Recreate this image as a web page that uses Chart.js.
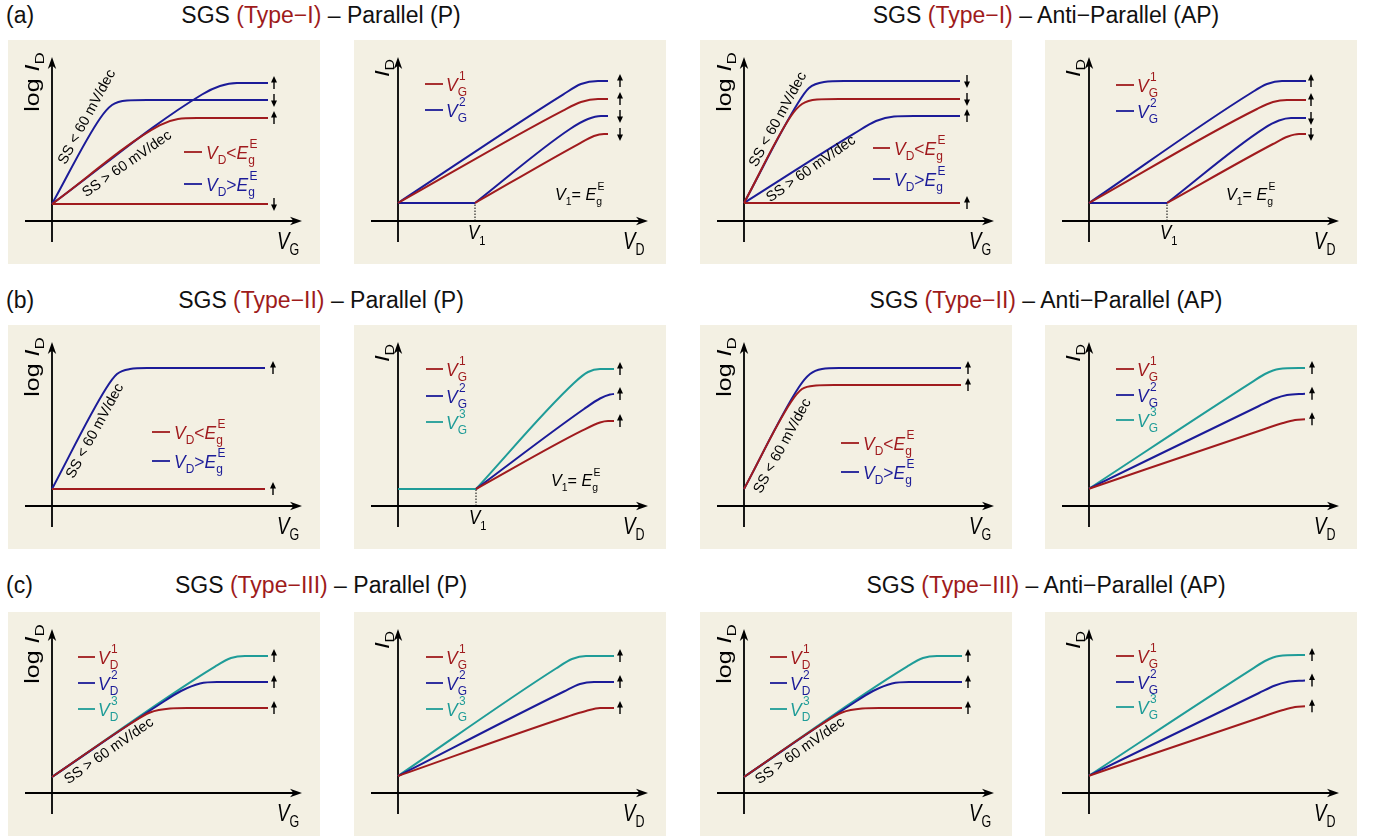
<!DOCTYPE html>
<html>
<head>
<meta charset="utf-8">
<script src="https://cdn.jsdelivr.net/npm/chart.js@4"></script>
<style>
  body { margin: 0; width: 1380px; height: 838px; background: #fff; position: relative; overflow: hidden;
         font-family: "Liberation Sans", Arial, sans-serif; color: #111; }
  .panel { position: absolute; width: 312px; height: 224px; background: #f3f0e3; }
  .lab, .ttl { position: absolute; font-size: 23px; line-height: 23px; white-space: nowrap; }
  .ttl { transform: translateX(-50%); }
  .r { color: #9e1b1b; }
</style>
</head>
<body>
<div class="lab" style="left:6px;top:4px">(a)</div>
<div class="ttl" style="left:321px;top:4px">SGS <span class="r">(Type−I)</span> – Parallel (P)</div>
<div class="ttl" style="left:1046px;top:4px">SGS <span class="r">(Type−I)</span> – Anti−Parallel (AP)</div>
<div class="lab" style="left:6px;top:289px">(b)</div>
<div class="ttl" style="left:321px;top:289px">SGS <span class="r">(Type−II)</span> – Parallel (P)</div>
<div class="ttl" style="left:1046px;top:289px">SGS <span class="r">(Type−II)</span> – Anti−Parallel (AP)</div>
<div class="lab" style="left:6px;top:574px">(c)</div>
<div class="ttl" style="left:321px;top:574px">SGS <span class="r">(Type−III)</span> – Parallel (P)</div>
<div class="ttl" style="left:1046px;top:574px">SGS <span class="r">(Type−III)</span> – Anti−Parallel (AP)</div>
<div id="wrap"></div>
<script>
const FONT = "'Liberation Sans', Arial, sans-serif";
const RED = "#a01b1e";
const BLUE = "#1b1b98";
const TEAL = "#1f9c98";

// curves: [x, y] in schematic units (origin at the axes crossing)
// (a) Type-I, P
const tIP_log_red0 = [[0, 1.7], [21.6, 1.7]];
const tIP_log_redSS = [[0, 1.7], [10.8, 9.58], [12.6, 10.2], [14.5, 10.3], [21.6, 10.3]];
const tIP_log_blueSteep = [[0, 1.7], [4.8, 10.25], [6.0, 11.6], [7.5, 12.05], [9.5, 12.1], [21.6, 12.1]];
const tIP_log_blueSS = [[0, 1.7], [15.0, 12.65], [16.8, 13.5], [18.5, 13.8], [21.6, 13.8]];
const tIP_log_arrows = [13.8, 12.1, 10.3, 1.7];
const tIP_log_dirs = [1, -1, 1, -1];

const tIP_lin_redUp = [[0, 1.8], [16.5, 11.04], [18.3, 11.9], [20, 12.2], [21, 12.2]];
const tIP_lin_blueUp = [[0, 1.8], [16.5, 12.64], [18.3, 13.7], [20, 14.0], [21, 14.0]];
const tIP_lin_redLow = [[7.7, 1.8], [18, 7.67], [19.6, 8.5], [20.6, 8.7], [21, 8.7]];
const tIP_lin_blueLow = [[7.7, 1.8], [17.2, 9.2], [19, 10.2], [20.3, 10.5], [21, 10.5]];
const tIP_lin_blueBase = [[0, 1.8], [7.7, 1.8]];
const tIP_lin_arrows = [14.0, 12.2, 10.5, 8.7];
const tIP_lin_dirs = [1, 1, -1, -1];

// (a) Type-I, AP
const tIAP_log_red0 = [[0, 1.8], [21.6, 1.8]];
const tIAP_log_redSteep = [[0, 1.8], [4.7, 10.5], [5.8, 11.7], [7.3, 12.15], [9.5, 12.2], [21.6, 12.2]];
const tIAP_log_blueSteep = [[0, 1.8], [5.4, 11.8], [6.5, 13.3], [8, 13.9], [10, 14], [21.6, 14]];
const tIAP_log_blueSS = [[0, 1.8], [11, 8.73], [13.2, 10.0], [15, 10.45], [17, 10.5], [21.6, 10.5]];
const tIAP_log_arrows = [14, 12.2, 10.5, 1.8];
const tIAP_log_dirs = [-1, -1, 1, 1];

const tIAP_lin_redUp = [[0, 1.8], [16.8, 11.2], [18.4, 11.9], [19.8, 12.1], [21.7, 12.1]];
const tIAP_lin_blueUp = [[0, 1.8], [16.2, 12.8], [17.8, 13.7], [19.3, 14.0], [21.7, 14.0]];
const tIAP_lin_redLow = [[7.8, 1.8], [18.4, 7.7], [19.9, 8.45], [21.0, 8.7], [21.7, 8.7]];
const tIAP_lin_blueLow = [[7.8, 1.8], [17.5, 9.27], [19.0, 10.05], [20.2, 10.3], [21.7, 10.3]];
const tIAP_lin_blueBase = [[0, 1.8], [7.8, 1.8]];
const tIAP_lin_arrows = [14, 12.1, 10.3, 8.7];
const tIAP_lin_dirs = [1, 1, -1, -1];

// (b) Type-II, P
const tIIP_log_red0 = [[0, 1.7], [21.3, 1.7]];
const tIIP_log_blueSteep = [[0, 1.7], [5.4, 11.75], [6.5, 13.2], [7.8, 13.7], [9.5, 13.8], [21.3, 13.8]];
const tIIP_log_arrows = [13.8, 1.7];

const tIIP_lin_tealBase = [[0, 1.7], [7.8, 1.7]];
const tIIP_lin_red = [[7.8, 1.7], [18.4, 7.53], [20.2, 8.35], [21.0, 8.5], [21.6, 8.5]];
const tIIP_lin_blue = [[7.8, 1.7], [18.6, 9.7], [20.2, 10.75], [21.2, 11.15], [21.6, 11.2]];
const tIIP_lin_teal = [[7.8, 1.7], [17.6, 12.3], [19.0, 13.4], [20.2, 13.7], [21.6, 13.7]];
const tIIP_lin_arrows = [13.7, 11.2, 8.5];

// (b) Type-II, AP
const tIIAP_log_red = [[0, 1.7], [4.7, 10.4], [5.8, 11.7], [7.2, 12.05], [9, 12.1], [21.7, 12.1]];
const tIIAP_log_blue = [[0, 1.7], [5.5, 11.9], [6.6, 13.2], [7.8, 13.7], [9.5, 13.8], [21.7, 13.8]];
const tIIAP_log_arrows = [13.8, 12.1];

const tIIAP_lin_red = [[0, 1.73], [17.5, 7.68], [19.4, 8.3], [20.6, 8.6], [21.6, 8.67]];
const tIIAP_lin_blue = [[0, 1.73], [17, 10.0], [18.6, 10.75], [19.8, 11.1], [21.6, 11.23]];
const tIIAP_lin_teal = [[0, 1.73], [16.3, 12.39], [17.6, 13.2], [19.0, 13.7], [21.6, 13.8]];
const tIIAP_lin_arrows = [13.8, 11.23, 8.67];

// (c) Type-III, P
const tIIIP_log_red = [[0, 1.6], [7.8, 6.9], [9.8, 8.05], [11.8, 8.45], [13.5, 8.5], [21.6, 8.5]];
const tIIIP_log_blue = [[0, 1.6], [10.8, 8.9], [12.9, 10.2], [14.8, 10.95], [16.5, 11.1], [21.6, 11.1]];
const tIIIP_log_teal = [[0, 1.6], [16.3, 12.64], [17.9, 13.5], [19.3, 13.7], [21.6, 13.7]];
const tIIIP_log_arrows = [13.7, 11.1, 8.5];

const tIIIP_lin_red = [[0, 1.7], [17, 7.65], [18.8, 8.2], [20.2, 8.5], [21.6, 8.5]];
const tIIIP_lin_blue = [[0, 1.7], [16.6, 10.15], [18.2, 10.9], [19.6, 11.1], [21.6, 11.1]];
const tIIIP_lin_teal = [[0, 1.7], [15.8, 12.45], [17.4, 13.4], [18.8, 13.7], [21.6, 13.7]];
const tIIIP_lin_arrows = [13.7, 11.1, 8.5];

// (c) Type-III, AP
const tIIIAP_log_red = [[0, 1.6], [7.8, 6.9], [9.8, 8.05], [11.8, 8.45], [13.5, 8.5], [21.8, 8.5]];
const tIIIAP_log_blue = [[0, 1.6], [10.8, 8.9], [12.9, 10.2], [14.8, 10.95], [16.5, 11.1], [21.8, 11.1]];
const tIIIAP_log_teal = [[0, 1.6], [16.3, 12.64], [17.9, 13.5], [19.3, 13.7], [21.8, 13.7]];
const tIIIAP_log_arrows = [13.7, 11.1, 8.5];

const tIIIAP_lin_red = [[0, 1.73], [17.5, 7.68], [19.4, 8.3], [20.6, 8.6], [21.6, 8.67]];
const tIIIAP_lin_blue = [[0, 1.73], [17, 10.0], [18.6, 10.75], [19.8, 11.1], [21.6, 11.25]];
const tIIIAP_lin_teal = [[0, 1.73], [16.3, 12.39], [17.6, 13.2], [19.0, 13.7], [21.6, 13.8]];
const tIIIAP_lin_arrows = [13.8, 11.25, 8.67];

const UP3 = [1, 1, 1];

// label pieces: i italic, r roman, b sub, p sup, bp stacked sub+sup
const VD_LT = [["V", "i"], ["D", "b"], ["<", "r"], ["E", "i"], [["g", "E"], "bp"]];
const VD_GT = [["V", "i"], ["D", "b"], [">", "r"], ["E", "i"], [["g", "E"], "bp"]];
const VG = n => [["V", "i"], [["G", n], "bp"]];
const VDn = n => [["V", "i"], [["D", n], "bp"]];
const V1EQ = [["V", "i"], ["1", "b"], ["= ", "r"], ["E", "i"], [["g", "E"], "bp"]];
const SS_LT = "SS < 60 mV/dec";
const SS_GT = "SS > 60 mV/dec";

const panels = [
  { at: [8, 40], log: true, xl: "G",
    curves: [[tIP_log_red0, RED], [tIP_log_redSS, RED], [tIP_log_blueSteep, BLUE], [tIP_log_blueSS, BLUE]],
    ax: 22.2, arrows: tIP_log_arrows, dirs: tIP_log_dirs,
    legend: { x0: 13.2, x1: 15.0, tx: 15.4, rows: [[6.9, RED, VD_LT], [3.7, BLUE, VD_GT]] },
    notes: [[SS_LT, 3.5, 10.4, 61.5], [SS_GT, 7.5, 5.7, 35]] },
  { at: [354, 40], log: false, xl: "D",
    curves: [[tIP_lin_redUp, RED], [tIP_lin_redLow, RED], [tIP_lin_blueUp, BLUE], [tIP_lin_blueLow, BLUE], [tIP_lin_blueBase, BLUE]],
    ax: 22.2, arrows: tIP_lin_arrows, dirs: tIP_lin_dirs,
    legend: { x0: 2.7, x1: 4.5, tx: 4.8, rows: [[13.7, RED, VG("1")], [11.1, BLUE, VG("2")]] },
    v1: [7.7, 1.8], eq: [15.7, 2.7] },
  { at: [700, 40], log: true, xl: "G",
    curves: [[tIAP_log_red0, RED], [tIAP_log_redSteep, RED], [tIAP_log_blueSS, BLUE], [tIAP_log_blueSteep, BLUE]],
    ax: 22.3, arrows: tIAP_log_arrows, dirs: tIAP_log_dirs,
    legend: { x0: 12.9, x1: 14.6, tx: 15.0, rows: [[7.3, RED, VD_LT], [4.2, BLUE, VD_GT]] },
    notes: [[SS_LT, 3.4, 10.15, 61.5], [SS_GT, 6.7, 5.2, 35]] },
  { at: [1045, 40], log: false, xl: "D",
    curves: [[tIAP_lin_redUp, RED], [tIAP_lin_redLow, RED], [tIAP_lin_blueUp, BLUE], [tIAP_lin_blueLow, BLUE], [tIAP_lin_blueBase, BLUE]],
    ax: 22.2, arrows: tIAP_lin_arrows, dirs: tIAP_lin_dirs,
    legend: { x0: 2.7, x1: 4.5, tx: 4.8, rows: [[13.6, RED, VG("1")], [11.0, BLUE, VG("2")]] },
    v1: [7.8, 1.8], eq: [13.7, 2.7] },

  { at: [8, 325], log: true, xl: "G",
    curves: [[tIIP_log_red0, RED], [tIIP_log_blueSteep, BLUE]],
    ax: 22.1, arrows: tIIP_log_arrows, dirs: [1, 1],
    legend: { x0: 10.0, x1: 11.8, tx: 12.2, rows: [[7.4, RED, VD_LT], [4.5, BLUE, VD_GT]] },
    notes: [[SS_LT, 4.3, 7.5, 61.5]] },
  { at: [354, 325], log: false, xl: "D",
    curves: [[tIIP_lin_red, RED], [tIIP_lin_blue, BLUE], [tIIP_lin_teal, TEAL], [tIIP_lin_tealBase, TEAL]],
    ax: 22.2, arrows: tIIP_lin_arrows, dirs: UP3,
    legend: { x0: 2.8, x1: 4.5, tx: 4.8, rows: [[13.7, RED, VG("1")], [11.0, BLUE, VG("2")], [8.4, TEAL, VG("3")]] },
    v1: [7.8, 1.7], eq: [15.3, 2.6] },
  { at: [700, 325], log: true, xl: "G",
    curves: [[tIIAP_log_red, RED], [tIIAP_log_blue, BLUE]],
    ax: 22.4, arrows: tIIAP_log_arrows, dirs: [1, 1],
    legend: { x0: 9.7, x1: 11.5, tx: 11.9, rows: [[6.3, RED, VD_LT], [3.4, BLUE, VD_GT]] },
    notes: [[SS_LT, 3.85, 6.0, 61.5]] },
  { at: [1045, 325], log: false, xl: "D",
    curves: [[tIIAP_lin_red, RED], [tIIAP_lin_blue, BLUE], [tIIAP_lin_teal, TEAL]],
    ax: 22.3, arrows: tIIAP_lin_arrows, dirs: UP3,
    legend: { x0: 2.7, x1: 4.5, tx: 4.8, rows: [[13.7, RED, VG("1")], [11.1, BLUE, VG("2")], [8.6, TEAL, VG("3")]] } },

  { at: [8, 612], log: true, xl: "G",
    curves: [[tIIIP_log_red, RED], [tIIIP_log_blue, BLUE], [tIIIP_log_teal, TEAL]],
    ax: 22.2, arrows: tIIIP_log_arrows, dirs: UP3,
    legend: { x0: 2.6, x1: 4.3, tx: 4.6, rows: [[13.6, RED, VDn("1")], [11.0, BLUE, VDn("2")], [8.4, TEAL, VDn("3")]] },
    notes: [[SS_GT, 5.7, 4.2, 35]] },
  { at: [354, 612], log: false, xl: "D",
    curves: [[tIIIP_lin_red, RED], [tIIIP_lin_blue, BLUE], [tIIIP_lin_teal, TEAL]],
    ax: 22.2, arrows: tIIIP_lin_arrows, dirs: UP3,
    legend: { x0: 2.8, x1: 4.5, tx: 4.8, rows: [[13.6, RED, VG("1")], [11.0, BLUE, VG("2")], [8.4, TEAL, VG("3")]] } },
  { at: [700, 612], log: true, xl: "G",
    curves: [[tIIIAP_log_red, RED], [tIIIAP_log_blue, BLUE], [tIIIAP_log_teal, TEAL]],
    ax: 22.4, arrows: tIIIAP_log_arrows, dirs: UP3,
    legend: { x0: 2.6, x1: 4.3, tx: 4.6, rows: [[13.6, RED, VDn("1")], [11.0, BLUE, VDn("2")], [8.4, TEAL, VDn("3")]] },
    notes: [[SS_GT, 5.6, 4.2, 35]] },
  { at: [1045, 612], log: false, xl: "D",
    curves: [[tIIIAP_lin_red, RED], [tIIIAP_lin_blue, BLUE], [tIIIAP_lin_teal, TEAL]],
    ax: 22.3, arrows: tIIIAP_lin_arrows, dirs: UP3,
    legend: { x0: 2.7, x1: 4.5, tx: 4.8, rows: [[13.7, RED, VG("1")], [11.1, BLUE, VG("2")], [8.6, TEAL, VG("3")]] } },
];

function drawRich(ctx, toks, x, y, size, color, o = {}) {
  const small = Math.round(size * 0.66);
  const fm = it => `${it ? "italic " : ""}${size}px ${FONT}`;
  const fs = `${small}px ${FONT}`;
  let w = 0;
  const items = [];
  for (const [t, k] of toks) {
    if (k === "bp") {
      ctx.font = fs;
      items.push({ t, k, x: w });
      w += Math.max(ctx.measureText(t[0]).width, ctx.measureText(t[1]).width + size * 0.08);
    } else {
      ctx.font = k === "b" || k === "p" ? fs : fm(k === "i");
      items.push({ t, k, x: w });
      w += ctx.measureText(t).width;
    }
  }
  ctx.save();
  ctx.translate(x, y);
  ctx.scale(o.sx || 1, 1);
  if (o.rot) ctx.rotate(o.rot);
  const x0 = o.align === "center" ? -w / 2 : 0;
  ctx.fillStyle = color;
  ctx.textAlign = "left";
  ctx.textBaseline = "alphabetic";
  const db = size * 0.28, dp = -size * 0.56;
  for (const it of items) {
    const px = x0 + it.x;
    if (it.k === "bp") {
      ctx.font = fs;
      ctx.fillText(it.t[0], px, db);
      ctx.fillText(it.t[1], px + size * 0.08, dp);
    } else if (it.k === "b") {
      ctx.font = fs;
      ctx.fillText(it.t, px, db);
    } else if (it.k === "p") {
      ctx.font = fs;
      ctx.fillText(it.t, px, dp);
    } else {
      ctx.font = fm(it.k === "i");
      ctx.fillText(it.t, px, 0);
    }
  }
  ctx.restore();
}

function head(ctx, tx, ty, ang) {
  ctx.save();
  ctx.translate(tx, ty);
  ctx.rotate(ang);
  ctx.beginPath();
  ctx.moveTo(0, 0);
  ctx.lineTo(-12, -4.2);
  ctx.lineTo(-8.5, 0);
  ctx.lineTo(-12, 4.2);
  ctx.closePath();
  ctx.fill();
  ctx.restore();
}

function vArrow(ctx, x, y, dir) {
  const tip = y - dir * 7, tail = y + dir * 6;
  ctx.beginPath();
  ctx.moveTo(x, tail);
  ctx.lineTo(x, tip + dir * 4);
  ctx.stroke();
  ctx.beginPath();
  ctx.moveTo(x, tip);
  ctx.lineTo(x - 3, tip + dir * 6.5);
  ctx.lineTo(x + 3, tip + dir * 6.5);
  ctx.closePath();
  ctx.fill();
}

const schematic = {
  id: "schematic",
  beforeDatasetsDraw(chart, args, p) {
    const ctx = chart.ctx;
    const X = v => chart.scales.x.getPixelForValue(v);
    const Y = v => chart.scales.y.getPixelForValue(v);
    ctx.save();
    ctx.strokeStyle = "#000";
    ctx.fillStyle = "#000";
    ctx.lineWidth = 1.8;
    ctx.beginPath();
    ctx.moveTo(X(-2.7), Y(0));
    ctx.lineTo(X(25.0) - 8, Y(0));
    ctx.moveTo(X(0), Y(-2.1));
    ctx.lineTo(X(0), Y(16.4) + 8);
    ctx.stroke();
    head(ctx, X(25.0), Y(0), 0);
    head(ctx, X(0), Y(16.4), -Math.PI / 2);
    if (p.v1) {
      ctx.lineWidth = 1;
      ctx.setLineDash([1.5, 1.5]);
      ctx.beginPath();
      ctx.moveTo(X(p.v1[0]), Y(0));
      ctx.lineTo(X(p.v1[0]), Y(p.v1[1]));
      ctx.stroke();
      ctx.setLineDash([]);
    }
    ctx.restore();
  },
  afterDatasetsDraw(chart, args, p) {
    const ctx = chart.ctx;
    const X = v => chart.scales.x.getPixelForValue(v);
    const Y = v => chart.scales.y.getPixelForValue(v);
    ctx.save();
    // axis titles
    drawRich(ctx, [["V", "i"], [p.xl, "b"]], X(22.5), Y(-2.75), 24, "#000", { sx: 0.78 });
    if (p.log) {
      drawRich(ctx, [["log ", "r"], ["I", "i"], ["D", "b"]], X(-1.3), Y(13.9), 25, "#000",
        { sx: 0.78, rot: -Math.PI / 2, align: "center" });
    } else {
      drawRich(ctx, [["I", "i"], ["D", "b"]], X(-0.95), Y(15.3), 24, "#000",
        { sx: 0.85, rot: -Math.PI / 2, align: "center" });
    }
    // level arrows
    ctx.strokeStyle = "#000";
    ctx.fillStyle = "#000";
    ctx.lineWidth = 1.4;
    p.arrows.forEach((lv, i) => vArrow(ctx, X(p.ax), Y(lv), p.dirs[i]));
    // legend
    ctx.lineWidth = 1.8;
    for (const [lv, col, toks] of p.legend.rows) {
      ctx.strokeStyle = col;
      ctx.beginPath();
      ctx.moveTo(X(p.legend.x0), Y(lv));
      ctx.lineTo(X(p.legend.x1), Y(lv));
      ctx.stroke();
      drawRich(ctx, toks, X(p.legend.tx), Y(lv) + 6.5, 19, col, { sx: 0.92 });
    }
    // slope notes
    for (const [txt, nx, ny, ang] of p.notes || []) {
      ctx.save();
      ctx.translate(X(nx), Y(ny));
      ctx.rotate(-ang * Math.PI / 180);
      ctx.font = `14.5px ${FONT}`;
      ctx.fillStyle = "#000";
      ctx.textAlign = "center";
      ctx.textBaseline = "middle";
      ctx.fillText(txt, 0, 0);
      ctx.restore();
    }
    if (p.v1) {
      drawRich(ctx, [["V", "i"], ["1", "b"]], X(p.v1[0] - 0.7), Y(-1.8), 20, "#000", { sx: 0.85 });
    }
    if (p.eq) {
      drawRich(ctx, V1EQ, X(p.eq[0]), Y(p.eq[1]) + 6, 17, "#000", { sx: 0.95 });
    }
    ctx.restore();
  }
};

const wrap = document.getElementById("wrap");
panels.forEach(p => {
  const div = document.createElement("div");
  div.className = "panel";
  div.style.left = p.at[0] + "px";
  div.style.top = p.at[1] + "px";
  const cv = document.createElement("canvas");
  cv.width = 312;
  cv.height = 224;
  div.appendChild(cv);
  wrap.appendChild(div);
  new Chart(cv, {
    type: "line",
    data: {
      datasets: p.curves.map(([pts, col]) => ({
        data: pts.map(([x, y]) => ({ x, y })),
        borderColor: col,
        borderWidth: 2,
        pointRadius: 0,
        fill: false,
        cubicInterpolationMode: "monotone"
      }))
    },
    options: {
      responsive: false,
      animation: false,
      events: [],
      layout: { padding: 0, autoPadding: false },
      plugins: { legend: { display: false }, tooltip: { enabled: false }, schematic: p },
      scales: {
        x: { type: "linear", min: -4.4, max: 26.8, display: false },
        y: { type: "linear", min: -4.3, max: 18.1, display: false }
      }
    },
    plugins: [schematic]
  });
});
</script>
</body>
</html>
